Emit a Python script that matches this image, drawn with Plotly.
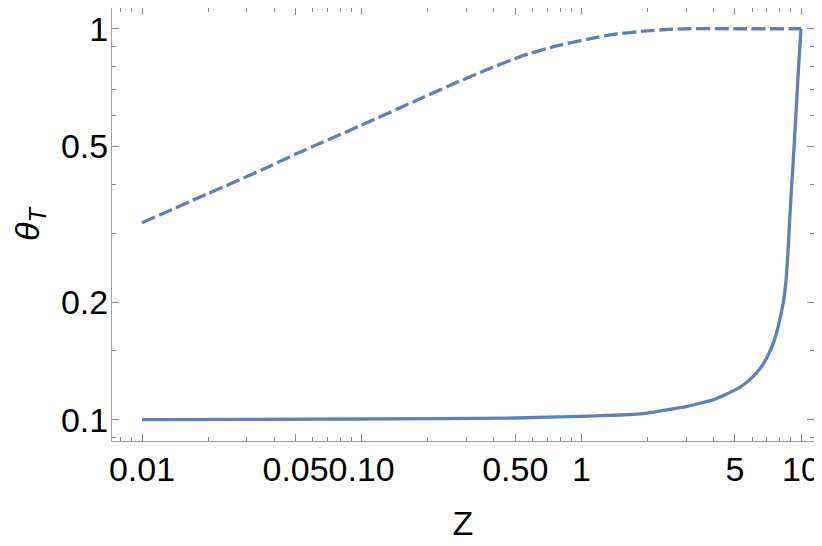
import plotly.graph_objects as go
import numpy as np

# values (log-log plot)
z_dashed = [0.01, 0.02, 0.035, 0.05, 0.1, 0.19, 0.28, 0.37, 0.53, 0.75, 1.06, 1.45, 2.0, 2.5, 3.0, 5.0, 10.0]
theta_dashed = [0.319, 0.379, 0.435, 0.478, 0.567, 0.667, 0.735, 0.785, 0.85, 0.90, 0.94, 0.97, 0.988, 0.996, 1.0, 1.0, 1.0]

z_solid = [0.01, 0.1, 0.5, 1.0, 1.5, 2.0, 3.0, 4.0, 5.0, 5.5, 6.06, 6.5, 6.97, 7.48, 7.87, 8.3, 8.55,
           8.72, 8.87, 9.06, 9.26, 9.45, 9.71, 10.0]
theta_solid = [0.1, 0.1004, 0.101, 0.102, 0.1028, 0.104, 0.108, 0.1125, 0.119, 0.123, 0.129, 0.135, 0.1436, 0.157, 0.173, 0.199, 0.2277,
               0.267, 0.32, 0.394, 0.48, 0.584, 0.769, 1.0]

x_ticks = [0.01, 0.05, 0.1, 0.5, 1, 5, 10]
x_ticktext = ["0.01", "0.05", "0.10", "0.50", "1", "5", "10"]
x_minor = [0.008, 0.009, 0.02, 0.03, 0.04, 0.06, 0.07, 0.08, 0.09,
           0.2, 0.3, 0.4, 0.6, 0.7, 0.8, 0.9, 2, 3, 4, 6, 7, 8, 9]
y_ticks = [0.1, 0.2, 0.5, 1]
y_ticktext = ["0.1", "0.2", "0.5", "1"]
y_minor = [0.09, 0.15, 0.3, 0.4, 0.6, 0.7, 0.8, 0.9]

color = "#5E81B5"
frame = "#A0A0A0"

fig = go.Figure()
fig.add_trace(go.Scatter(x=z_dashed, y=theta_dashed, mode="lines",
                         line=dict(color=color, width=3.3, dash="14px,4.5px",
                                   shape="spline", smoothing=0.5)))
fig.add_trace(go.Scatter(x=z_solid, y=theta_solid, mode="lines",
                         line=dict(color=color, width=3.3,
                                   shape="spline", smoothing=0.3)))

axis_font = dict(family="Liberation Sans, Arial", size=34, color="black")

# page body has an 8px margin, so the figure is sized/placed to compensate
fig.update_xaxes(
    type="log", range=[np.log10(0.0073), np.log10(11.46)], automargin=False,
    tickmode="array", tickvals=x_ticks, ticktext=x_ticktext, tickangle=0,
    ticks="inside", ticklen=7, tickwidth=1, tickcolor="#888888",
    ticklabelstandoff=-2,
    minor=dict(tickmode="array", tickvals=x_minor, ticks="inside", ticklen=4,
               tickcolor="#888888", showgrid=False),
    showline=True, linecolor=frame, linewidth=1, mirror="ticks",
    showgrid=False, zeroline=False, tickfont=axis_font,
    title=dict(text="Z", font=axis_font, standoff=24),
)
fig.update_yaxes(
    type="log", range=[np.log10(0.0882), np.log10(1.13)], automargin=False,
    tickmode="array", tickvals=y_ticks, ticktext=y_ticktext,
    ticks="inside", ticklen=7, tickwidth=1, tickcolor="#888888",
    ticklabelstandoff=-4,
    minor=dict(tickmode="array", tickvals=y_minor, ticks="inside", ticklen=4,
               tickcolor="#888888", showgrid=False),
    showline=True, linecolor=frame, linewidth=1, mirror="ticks",
    showgrid=False, zeroline=False, tickfont=axis_font,
    title=dict(text="<i>θ</i><sub><i>T</i></sub>", font=axis_font, standoff=30),
)
fig.update_layout(
    width=814, height=538,
    margin=dict(l=104, r=8, t=0, b=105),
    plot_bgcolor="white", paper_bgcolor="white",
    showlegend=False,
)

fig.write_html("out.html")
